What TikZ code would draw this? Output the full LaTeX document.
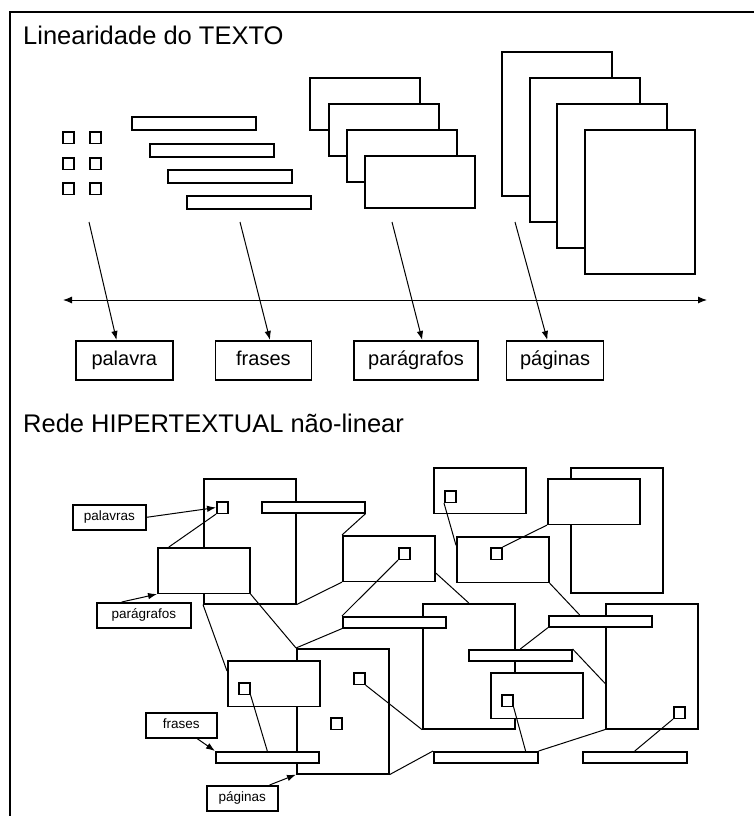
\documentclass[tikz,border=0pt]{standalone}
\usepackage{fontspec}
\setmainfont{Liberation Sans}
\usetikzlibrary{arrows.meta,positioning}

\begin{document}
\begin{tikzpicture}[x=1pt, y=-1pt, sharp corners,
     bx/.style={draw=black, line width=1.6pt, fill=white, inner sep=0pt, anchor=north west},
     sq/.style={bx, minimum width=11pt, minimum height=11.5pt},
     br/.style={bx, minimum width=124pt, minimum height=13pt},
     pr/.style={bx, minimum width=110pt, minimum height=52pt},
     pgb/.style={bx, minimum width=110pt, minimum height=144pt},
     nbr/.style={bx, minimum width=103pt, minimum height=11pt},
     npr/.style={bx, minimum width=92pt, minimum height=45.5pt},
     npg/.style={bx, minimum width=92pt, minimum height=125pt},
     lbl/.style={bx, minimum height=39pt, text height=14.5pt, text depth=4pt,
                 font=\fontsize{20pt}{23pt}\selectfont},
     tg/.style={bx, minimum height=25pt, text height=10pt, text depth=2.8pt,
                font=\fontsize{13.5pt}{16pt}\selectfont},
     ttl/.style={inner sep=0pt, anchor=base west, font=\fontsize{25.5pt}{30pt}\selectfont},
     ln/.style={line width=1pt},
     ar/.style={ln, -{Latex[length=9pt,width=6.5pt]}}]
   \useasboundingbox (0,0) rectangle (754,816);
   \draw[line width=2pt] (10,816) -- (10,12) -- (754,12);

   % linear part
   \node[ttl] (t1) at (23,45) {Linearidade do TEXTO};
   \node[sq] (w1) at (62,131) {};
   \node[sq] (w2) at (89,131) {};
   \node[sq] (w3) at (62,157) {};
   \node[sq] (w4) at (89,157) {};
   \node[sq] (w5) at (62,182) {};
   \node[sq] (w6) at (89,182) {};
   \node[br] (b1) at (131,116) {};
   \node[br] (b2) at (149,143) {};
   \node[br] (b3) at (167,169) {};
   \node[br] (b4) at (186,195) {};
   \node[pr] (p1) at (309,77) {};
   \node[pr] (p2) at (328,103) {};
   \node[pr] (p3) at (346,129) {};
   \node[pr] (p4) at (364,155) {};
   \node[pgb] (g1) at (501,51) {};
   \node[pgb] (g2) at (529,77) {};
   \node[pgb] (g3) at (556,103) {};
   \node[pgb] (g4) at (584,129) {};
   \node[lbl, minimum width=97pt] (lw) at (75,340) {palavra};
   \node[lbl, minimum width=96pt, right=41pt of lw] (lf) {frases};
   \node[lbl, minimum width=124pt, right=41pt of lf] (lp) {parágrafos};
   \node[lbl, minimum width=97pt, right=27pt of lp] (lg) {páginas};
   \coordinate (ax0) at (63,300);
   \coordinate (ax1) at (707,300);
   \draw[ln, {Latex[length=9pt,width=7pt]}-{Latex[length=9pt,width=7pt]}] (ax0) -- (ax1);
   \coordinate (s1) at (89,222);
   \coordinate (s2) at (240,222);
   \coordinate (s3) at (392,222);
   \coordinate (s4) at (515,222);
   \draw[ar] (s1) -- (lw.111);
   \draw[ar] (s2) -- (lf.72);
   \draw[ar] (s3) -- (lp.73);
   \draw[ar] (s4) -- (lg.111);

   % network part
   \node[ttl] (t2) at (23,432) {Rede HIPERTEXTUAL não-linear};
   \node[npg] (A) at (203,478) {};
   \node[sq] (sqA) at (216,501) {};
   \node[npr] (B) at (157,547) {};
   \node[nbr] (C) at (261,501) {};
   \node[npr] (D) at (342,535) {};
   \node[sq] (sqD) at (398,547) {};
   \node[npg] (F) at (296,648) {};
   \node[sq] (sqF1) at (353,672) {};
   \node[sq] (sqF2) at (330,717) {};
   \node[npr] (G) at (227,660) {};
   \node[sq] (sqG) at (238,682) {};
   \node[nbr] (H) at (215,751) {};
   \node[npr] (Q) at (433,467) {};
   \node[sq] (sqQ) at (444,490) {};
   \node[npr] (P) at (456,536) {};
   \node[sq] (sqP) at (490,547) {};
   \node[npg] (S) at (570,467) {};
   \node[npr] (R) at (547,478) {};
   \node[npg] (I) at (422,603) {};
   \node[nbr] (E) at (342,616) {};
   \node[nbr] (K) at (468,649) {};
   \node[npr] (L) at (490,672) {};
   \node[sq] (sqL) at (501,694) {};
   \node[npg] (N) at (605,603) {};
   \node[nbr] (M) at (548,615) {};
   \node[sq] (sqN) at (673,706) {};
   \node[nbr, minimum width=104pt] (J) at (433,751) {};
   \node[nbr, minimum width=104pt] (O) at (582,751) {};
   \node[tg, minimum width=73pt] (tpw) at (72,504) {palavras};
   \node[tg, minimum width=94pt] (tpa) at (96,602) {parágrafos};
   \node[tg, minimum width=71pt] (tfr) at (145,712) {frases};
   \node[tg, minimum width=71pt] (tpg) at (206,785) {páginas};

   \draw[ln] (sqA.south west) -- (B.146);
   \draw[ln] (C.south east) -- (D.north west);
   \draw[ln] (A.south east) -- (D.south west);
   \draw[ln] (A.south west) -- (G.165);
   \draw[ln] (B.south east) -- (F.north west);
   \draw[ln] (sqD.south west) -- (E.north west);
   \draw[ln] (E.south west) -- (F.north west);
   \draw[ln] (sqQ.south west) -- (P.163);
   \draw[ln] (sqP.north east) -- (R.south west);
   \draw[ln] (D.-17) -- (I.north);
   \draw[ln] (P.south east) -- (M.163);
   \draw[ln] (K.north) -- (M.south west);
   \draw[ln] (K.north east) -- (N.200);
   \draw[ln] (sqL.south east) -- (J.9);
   \draw[ln] (J.north east) -- (N.south west);
   \draw[ln] (sqN.south west) -- (O.north);
   \draw[ln] (sqF1.south east) -- (I.south west);
   \draw[ln] (F.south east) -- (J.north west);
   \draw[ln] (sqG.south east) -- (H.north);
   \draw[ar] (tpw.east) -- (sqA.west);
   \draw[ar] (tpa.149) -- (B.south west);
   \draw[ar] (tfr.-40) -- (H.north west);
   \draw[ar] (tpg.26) -- (F.south west);
  \end{tikzpicture}
\end{document}
